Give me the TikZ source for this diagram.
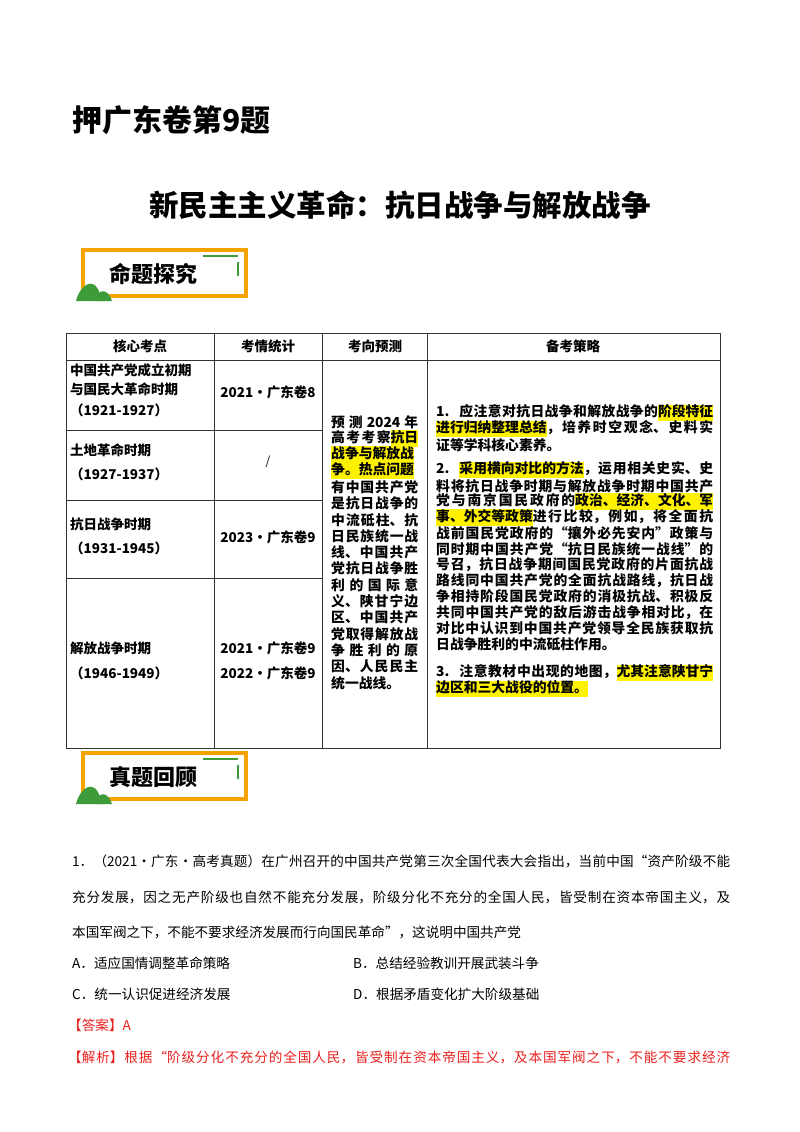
\documentclass[tikz,border=0pt]{standalone}
\usepackage{fontspec}
\setmainfont{Noto Sans CJK SC}
\XeTeXlinebreaklocale "zh"
\XeTeXlinebreakskip=0pt plus 6pt
\newcommand\jl[2]{\parbox{#1pt}{\parfillskip=0pt\parindent=0pt\emergencystretch=20pt #2\par}}
\newcommand\hl[1]{{\setlength\fboxsep{0pt}\colorbox{yellow}{\strut #1}}}
\newcommand\num[1]{\mbox{#1\hspace*{10pt}}}
\definecolor{bannerorange}{HTML}{F5A300}
\definecolor{hillgreen}{HTML}{3E9B3A}
\definecolor{ansred}{HTML}{E8201E}
\begin{document}
\begin{tikzpicture}[x=1pt,y=-1pt,
  tx/.style={anchor=west,inner sep=0pt,font=\fontsize{13.5}{15}\selectfont\bfseries},
  tc/.style={anchor=center,inner sep=0pt,font=\fontsize{13.5}{15}\selectfont\bfseries},
  ty/.style={anchor=west,inner sep=0pt,font=\fontsize{13.8}{15}\selectfont\bfseries},
  qx/.style={anchor=west,inner sep=0pt,font=\fontsize{13.6}{16}\selectfont},
  grid/.style={draw=black!80,line width=0.8pt}]
\path[use as bounding box] (0,0) rectangle (800,1132);
\node[anchor=west,inner sep=0pt,font=\fontsize{30}{33}\selectfont\bfseries] (t1) at (72,120) {押广东卷第9题};
\node[anchor=center,inner sep=0pt,font=\fontsize{29.5}{33}\selectfont\bfseries] (t2) at (400,205) {新民主主义革命：抗日战争与解放战争};
% banners
\foreach \yy/\txt/\nm in {250/命题探究/ba,753/真题回顾/bb}{
  \draw[bannerorange,line width=3.5pt] (83,\yy) rectangle (246,\yy+46);
  \draw[hillgreen,line width=1.5pt] (203,\yy+6) -- (238,\yy+6);
  \draw[hillgreen,line width=1.5pt] (238,\yy+12) -- (238,\yy+26);
  \fill[hillgreen] (76,\yy+51) .. controls (80,\yy+35) and (94,\yy+25) .. (100,\yy+44) -- (104,\yy+51) -- cycle;
  \fill[hillgreen] (94,\yy+51) .. controls (98,\yy+38) and (108,\yy+38) .. (112,\yy+51) -- cycle;
  \node[anchor=center,inner sep=0pt,font=\fontsize{22}{25}\selectfont\bfseries] (\nm) at (153,\yy+24) {\txt};
}
% table
\draw[grid] (66,333) rectangle (720,748);
\foreach \xx in {214,322,427} \draw[grid] (\xx,333) -- (\xx,748);
\draw[grid] (66,360) -- (720,360);
\foreach \yy in {430,500,578} \draw[grid] (66,\yy) -- (322,\yy);
\node[tc] (h1) at (140,346) {核心考点};
\node[tc] (h2) at (268,346) {考情统计};
\node[tc] (h3) at (375,346) {考向预测};
\node[tc] (h4) at (573,346) {备考策略};
\node[tx] (r1a) at (70,370) {中国共产党成立初期};
\node[tx] (r1b) at (70,389) {与国民大革命时期};
\node[tx] (r1c) at (70,410) {（1921-1927）};
\node[tc] (s1) at (268,392) {2021·广东卷8};
\node[tx] (r2a) at (70,450) {土地革命时期};
\node[tx] (r2b) at (70,474) {（1927-1937）};
\node[tc,font=\fontsize{12}{14}\selectfont] (s2) at (268,462) {/};
\node[tx] (r3a) at (70,524) {抗日战争时期};
\node[tx] (r3b) at (70,548) {（1931-1945）};
\node[tc] (s3) at (268,537) {2023·广东卷9};
\node[tx] (r4a) at (70,648) {解放战争时期};
\node[tx] (r4b) at (70,673) {（1946-1949）};
\node[tc] (s4) at (268,648) {2021·广东卷9};
\node[tc] (s5) at (268,673) {2022·广东卷9};
% column 3
\foreach \i/\t in {0/{预 测 2024 年},1/{高考考察\hl{抗日}},2/{\hl{战争与解放战}},3/{\hl{争。热点问题}},4/{有中国共产党},5/{是抗日战争的},6/{中流砥柱、抗},7/{日民族统一战},8/{线、中国共产},9/{党抗日战争胜},10/{利的国际意},11/{义、陕甘宁边},12/{区、中国共产},13/{党取得解放战},14/{争胜利的原},15/{因、人民民主}}
  \node[ty] (c3l\i) at (331,422+16.3*\i) {\jl{87}{\t}};
\node[ty] (c3l16) at (331,683) {统一战线。};
% column 4
\node[ty] (p1a) at (436,413) {\jl{277}{\num{1.}应注意对抗日战争和解放战争的\hl{阶段特征}}};
\node[ty] (p1b) at (436,429) {\jl{277}{\hl{进行归纳整理总结}，培养时空观念、史料实}};
\node[ty] (p1c) at (436,445) {证等学科核心素养。};
\foreach \i/\t in {0/{\num{2.}\hl{采用横向对比的方法}，运用相关史实、史},1/{料将抗日战争时期与解放战争时期中国共产},2/{党与南京国民政府的\hl{政治、经济、文化、军}},3/{\hl{事、外交等政策}进行比较，例如，将全面抗},4/{战前国民党政府的“攘外必先安内”政策与},5/{同时期中国共产党“抗日民族统一战线”的},6/{号召，抗日战争期间国民党政府的片面抗战},7/{路线同中国共产党的全面抗战路线，抗日战},8/{争相持阶段国民党政府的消极抗战、积极反},9/{共同中国共产党的敌后游击战争相对比，在},10/{对比中认识到中国共产党领导全民族获取抗}}
  \node[ty] (p2l\i) at (436,470+15.8*\i) {\jl{277}{\t}};
\node[ty] (p2l11) at (436,644) {日战争胜利的中流砥柱作用。};
\node[ty] (p3a) at (436,673) {\jl{277}{\num{3.}注意教材中出现的地图，\hl{尤其注意陕甘宁}}};
\node[ty] (p3b) at (436,689) {\hl{边区和三大战役的位置。}};
% question
\node[qx] (q1) at (72,861) {\jl{658}{1．（2021·广东·高考真题）在广州召开的中国共产党第三次全国代表大会指出，当前中国“资产阶级不能}};
\node[qx] (q2) at (72,897) {\jl{658}{充分发展，因之无产阶级也自然不能充分发展，阶级分化不充分的全国人民，皆受制在资本帝国主义，及}};
\node[qx] (q3) at (72,932) {本国军阀之下，不能不要求经济发展而行向国民革命”，这说明中国共产党};
\node[qx] (qa) at (72,963) {A．适应国情调整革命策略};
\node[qx] (qb) at (353,963) {B．总结经验教训开展武装斗争};
\node[qx] (qc) at (72,994) {C．统一认识促进经济发展};
\node[qx] (qd) at (353,994) {D．根据矛盾变化扩大阶级基础};
\node[qx,text=ansred] (ans) at (68,1025) {【答案】A};
\node[qx,text=ansred] (jx) at (68,1057) {\jl{662}{【解析】根据“阶级分化不充分的全国人民，皆受制在资本帝国主义，及本国军阀之下，不能不要求经济}};
\end{tikzpicture}
\end{document}
